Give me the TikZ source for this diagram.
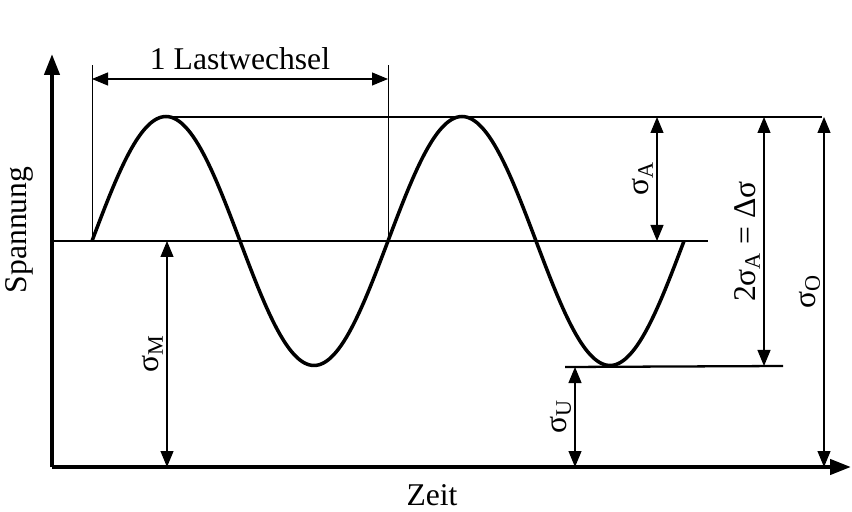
\documentclass[tikz,border=0pt]{standalone}
\usepackage{fontspec}
\setmainfont{Liberation Serif}
\usetikzlibrary{arrows.meta}

\tikzset{
  achse/.style={line width=2.4pt, -{Triangle[length=0.42cm,width=0.3cm]}},
  linie/.style={line width=1.3pt},
  kurve/.style={line width=2pt, line join=round},
  hilfslinie/.style={line width=0.5pt},
  mass/.style={line width=0.6pt, {Triangle[length=0.32cm,width=0.26cm]}-{Triangle[length=0.32cm,width=0.26cm]}},
  lbl/.style={font=\fontsize{18}{22}\selectfont, inner sep=2pt},
}

\begin{document}
\begin{tikzpicture}
    \useasboundingbox (0,0) rectangle (17.04,10.22);

    % Eckpunkte
    \coordinate (O) at (1.04,0.88);
    \coordinate (yEnd) at (1.04,9.14);
    \coordinate (xEnd) at (17.02,0.88);
    \coordinate (mL) at (1.04,5.4);
    \coordinate (mR) at (14.16,5.4);
    \coordinate (oL) at (3.34,7.88);
    \coordinate (oR) at (16.44,7.88);
    \coordinate (uL) at (11.3,2.88);
    \coordinate (uR) at (15.66,2.9);

    % Achsen
    \draw[achse] (O) -- (yEnd);
    \draw[achse] (O) -- (xEnd);
    \node[lbl, rotate=90] (spannung) at (0.38,5.62) {Spannung};
    \node[lbl] (zeit) at (8.64,0.32) {Zeit};

    % Mittel-, Ober- und Unterspannung
    \draw[linie] (mL) -- (mR);
    \draw[linie] (oL) -- (oR);
    \draw[linie] (uL) -- (uR);

    % Sinuskurve, zwei Lastwechsel
    \draw[kurve] plot[domain=0:11.84, samples=121, smooth] ({1.84+\x},{5.4+2.49*sin(360*\x/5.92)});

    % 1 Lastwechsel
    \coordinate (p1) at (1.84,5.4);
    \coordinate (p2) at (7.76,5.4);
    \coordinate (h1) at (1.84,8.92);
    \coordinate (h2) at (7.76,8.92);
    \draw[hilfslinie] (p1) -- (h1);
    \draw[hilfslinie] (p2) -- (h2);
    \draw[mass] (1.84,8.64) coordinate (d1) -- (7.76,8.64) coordinate (d2)
        node[midway, above, lbl, inner sep=5pt] (lastwechsel) {1 Lastwechsel};

    % Bemaßung der Spannungen
    \coordinate (aO) at (13.14,7.88);
    \coordinate (aM) at (13.14,5.4);
    \draw[mass] (aM) -- (aO) node[midway, sloped, above, lbl] (sigA) {σ\textsubscript{A}};

    \coordinate (bO) at (15.28,7.88);
    \coordinate (bU) at (15.28,2.9);
    \draw[mass] (bU) -- (bO) node[midway, sloped, above, lbl] (sigD) {2σ\textsubscript{A} = Δσ};

    \coordinate (cO) at (16.48,7.88);
    \coordinate (cU) at (16.48,0.88);
    \draw[mass] (cU) -- (cO) node[midway, sloped, above, lbl] (sigO) {σ\textsubscript{O}};

    \coordinate (mO) at (3.34,5.4);
    \coordinate (mU) at (3.34,0.88);
    \draw[mass] (mU) -- (mO) node[midway, sloped, above, lbl] (sigM) {σ\textsubscript{M}};

    \coordinate (uO) at (11.5,2.88);
    \coordinate (uU) at (11.5,0.88);
    \draw[mass] (uU) -- (uO) node[midway, sloped, above, lbl] (sigU) {σ\textsubscript{U}};
\end{tikzpicture}
\end{document}
